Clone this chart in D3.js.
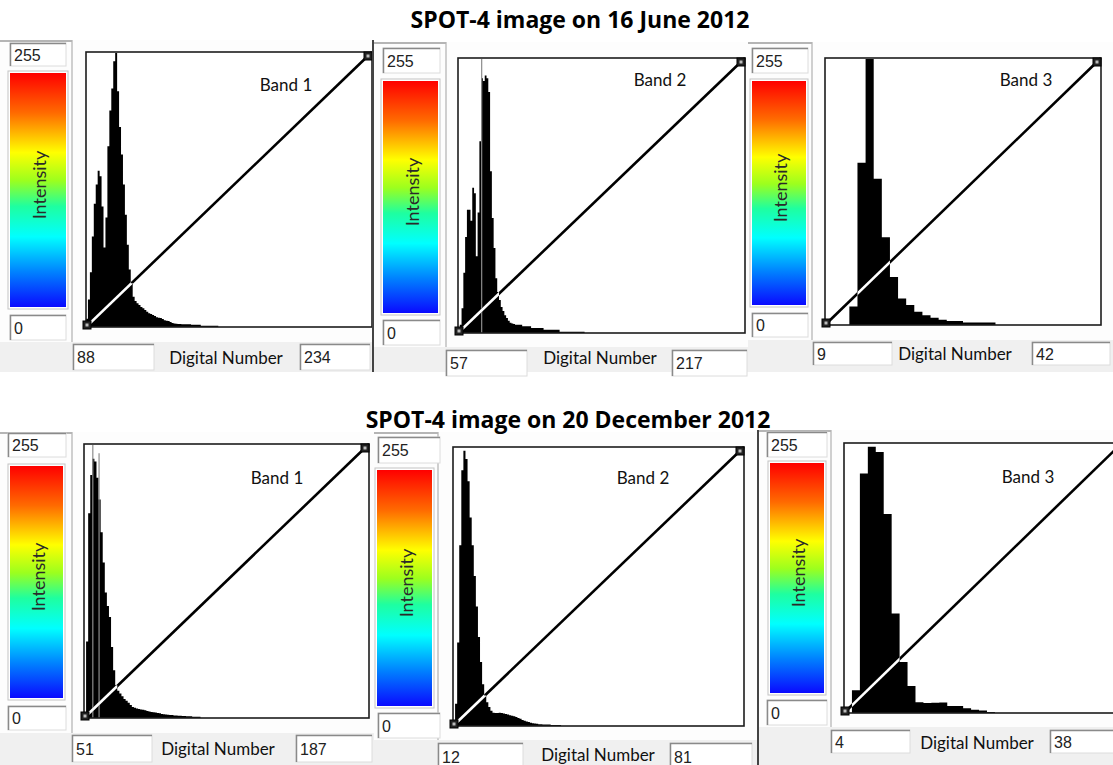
<!DOCTYPE html>
<html>
<head>
<meta charset="utf-8">
<script src="https://cdn.jsdelivr.net/npm/d3@7"></script>
<style>
  body { margin: 0; background: #fff; }
  svg { display: block; }
</style>
</head>
<body>
<div id="chart"></div>
<script>
const titles = ['SPOT-4 image on 16 June 2012', 'SPOT-4 image on 20 December 2012'];
const bandNames = ['Band 1', 'Band 2', 'Band 3', 'Band 1', 'Band 2', 'Band 3'];
const dnMin = [88, 57, 9, 51, 12, 4];
const dnMax = [234, 217, 42, 187, 81, 38];
const binSize = [1, 1, 1, 1, 0.5, 1];
const intensityTicks = ['255', '0'];
const axisLabel = 'Digital Number';
const colorLabel = 'Intensity';

// histogram heights in % of the highest bin, one value per bin from dnMin up
const histJun1 = [3, 10, 20, 33, 45, 52, 57, 55, 44, 29, 40, 66, 79, 87, 97, 100, 86, 73, 63, 52,
  41, 30, 21, 16, 11, 9.5, 8.7, 8, 7.3, 6.8, 6.2, 5.6, 5, 4.7, 4.4, 4, 3.6, 3.4, 3.3, 2.9,
  2.5, 2.3, 2.2, 1.8, 1.5, 1.3, 1.2, 1.1, 1.1, 1, 1, 1, 1, 1, 0.8, 0.8, 0.8, 0.8, 0.8,
  0.5, 0.5, 0.5, 0.5, 0.5, 0.5, 0.5, 0.5, 0.5];
const histJun2 = [0, 3, 9, 22, 35, 45, 45, 41, 53, 51, 28, 44, 70, 93, 92, 94, 93, 88, 59, 42,
  31, 20, 15, 12, 9.5, 8, 6.5, 5.5, 4.5, 3.7, 3.5, 3.3, 3, 3, 3, 3, 2.5, 2.5, 2.5, 2.5,
  2.5, 1.8, 1.8, 1.8, 1.8, 1.8, 1.8, 1.8, 1.2, 1.2, 1.2, 1.2, 1.2, 1.2, 1.2, 1.2, 1.2,
  0.5, 0.5, 0.5, 0.5, 0.5, 0.5, 0.5, 0.5, 0.5, 0.5, 0.5, 0.5, 0.5, 0.5];
const histJun3 = [0, 0, 0, 7, 61, 100, 55, 33, 18, 10, 7.5, 5, 3.7, 2.7, 2, 1.5, 1.5, 0.9, 0.9, 0.9, 0.9];
const histDec1 = [0, 28, 75, 89, 95, 94, 88, 80, 68, 57, 46, 41, 37, 26, 17.5, 12, 10, 9, 8, 7,
  6.3, 5.6, 4.8, 4, 3.8, 3.5, 3.3, 3.1, 3, 2.8, 2.6, 2.4, 2.2, 2.1, 2, 1.8, 1.7, 1.5, 1.4, 1.3,
  1.2, 1.1, 1.1, 0.9, 0.9, 0.8, 0.8, 0.7, 0.7, 0.6, 0.6, 0.6, 0.5, 0.5, 0.5, 0.5];
const histDec2 = [0, 8, 30, 65, 92, 99, 96, 88, 75, 65, 54, 43, 32, 23, 15, 11, 8.5, 6.8, 5.5, 4.8,
  4.7, 4.7, 4.8, 4.7, 4.5, 4.3, 4.1, 3.9, 3.7, 3.5, 3.2, 2.9, 2.6, 2.2, 1.9, 1.6, 1.4, 1.2, 1, 0.9,
  0.8, 0.6, 0.6, 0.5, 0.5, 0.5, 0.5, 0.4, 0.4, 0.4, 0.4, 0.4];
const histDec3 = [0, 8.5, 89, 99, 97, 74, 37, 19, 10, 4, 3.7, 3.8, 3.9, 2.6, 2.6, 1.8, 1.2, 0.9, 0.4];
const histograms = [histJun1, histJun2, histJun3, histDec1, histDec2, histDec3];

// thin grey spikes above the peaks: [DN, height %]
const spikes = [[], [[70, 100]], [], [[55, 100], [58, 97]], [], []];

// colour ramp of the intensity bar, top (255) to bottom (0)
const rampOffsets = [0, 0.17, 0.34, 0.46, 0.57, 0.7, 0.85, 1];
const rampColors = ['#ff0000', '#ff6a00', '#ffff00', '#9cff1e', '#1effa0', '#00ffff', '#0082ff', '#0a0aff'];

// screen layout of the six dialog panels (pixels)
const panels = [
  {bg: [0, 40, 373, 372], strip: 342, sep: 72, box: [86, 52, 372, 327], bar: [10, 73, 66, 307],
   top: [10, 43, 66, 66], zero: [10, 315, 66, 340], lo: [73, 344, 154, 370], hi: [300, 344, 370, 370],
   lab: [226, 357], band: [286, 84]},
  {bg: [374, 42, 748, 372], strip: 347, sep: 446, box: [458, 58, 745, 333], bar: [383, 81, 438, 313],
   top: [383, 48, 440, 73], zero: [383, 320, 440, 345], lo: [446, 350, 527, 376], hi: [672, 350, 747, 376],
   lab: [600, 357], band: [660, 79]},
  {bg: [748, 42, 1113, 372], strip: 340, sep: 812, box: [825, 58, 1101, 325], bar: [752, 81, 806, 305],
   top: [752, 48, 808, 73], zero: [752, 313, 808, 337], lo: [813, 342, 892, 365], hi: [1032, 342, 1110, 365],
   lab: [955, 353], band: [1026, 79]},
  {bg: [0, 432, 374, 765], strip: 733, sep: 72, box: [84, 444, 369, 718], bar: [10, 466, 63, 698],
   top: [8, 433, 66, 457], zero: [8, 706, 66, 730], lo: [72, 735, 152, 762], hi: [296, 735, 372, 762],
   lab: [218, 748], band: [277, 477]},
  {bg: [374, 432, 758, 765], strip: 740, sep: 438, box: [453, 447, 744, 726], bar: [377, 470, 432, 706],
   top: [378, 437, 440, 463], zero: [378, 713, 440, 738], lo: [438, 743, 523, 770], hi: [670, 743, 752, 770],
   lab: [598, 754], band: [643, 477]},
  {bg: [758, 430, 1113, 765], strip: 727, sep: 831, box: [844, 443, 1122, 713], bar: [770, 463, 824, 693],
   top: [767, 432, 827, 457], zero: [767, 700, 827, 725], lo: [831, 730, 910, 753], hi: [1050, 730, 1130, 753],
   lab: [977, 742], band: [1028, 476]}
];
const titlePos = [[580, 28], [568, 428]];

const uiFont = 'Lato, "Open Sans", sans-serif';
const titleFont = '"Open Sans", Lato, sans-serif';
const numFont = '"Liberation Sans", Arial, sans-serif';

const svg = d3.select('#chart')
  .append('svg')
  .attr('width', 1113)
  .attr('height', 765);

const defs = svg.append('defs');
const grad = defs.append('linearGradient')
  .attr('id', 'ramp')
  .attr('x1', 0).attr('y1', 0).attr('x2', 0).attr('y2', 1);
rampOffsets.forEach((o, k) => {
  grad.append('stop').attr('offset', o).attr('stop-color', rampColors[k]);
});

// sunken windows text field
function field(g, r, txt) {
  g.append('rect')
    .attr('x', r[0]).attr('y', r[1])
    .attr('width', r[2] - r[0]).attr('height', r[3] - r[1])
    .attr('fill', '#fff')
    .attr('stroke', '#dcdcdc');
  g.append('path')
    .attr('d', `M${r[0] + 0.5},${r[3]}V${r[1] + 0.5}H${r[2]}`)
    .attr('fill', 'none')
    .attr('stroke', '#8a8a8a')
    .attr('stroke-width', 1.5);
  g.append('text')
    .attr('x', r[0] + 4)
    .attr('y', (r[1] + r[3]) / 2 + 6)
    .style('font-family', numFont)
    .style('font-size', '16px')
    .attr('fill', '#222')
    .text(txt);
}

panels.forEach((p, i) => {
  const g = svg.append('g');
  const [L, T, R, B] = p.box;

  // dialog background
  g.append('rect')
    .attr('x', p.bg[0]).attr('y', p.bg[1])
    .attr('width', p.bg[2] - p.bg[0]).attr('height', p.bg[3] - p.bg[1])
    .attr('fill', '#fdfdfd');
  g.append('rect')
    .attr('x', p.bg[0]).attr('y', p.strip)
    .attr('width', p.bg[2] - p.bg[0]).attr('height', p.bg[3] - p.strip)
    .attr('fill', '#f0f0f0');
  g.append('line')
    .attr('x1', p.sep).attr('x2', p.sep)
    .attr('y1', p.bg[1]).attr('y2', p.strip)
    .attr('stroke', '#cfcfcf').attr('stroke-width', 2);
  g.append('line')
    .attr('x1', p.bg[0]).attr('x2', p.sep)
    .attr('y1', p.bg[1] + 1).attr('y2', p.bg[1] + 1)
    .attr('stroke', '#b5b5b5').attr('stroke-width', 2);

  // intensity bar
  g.append('rect')
    .attr('x', p.bar[0] - 2).attr('y', p.bar[1] - 2)
    .attr('width', p.bar[2] - p.bar[0] + 4).attr('height', p.bar[3] - p.bar[1] + 4)
    .attr('fill', '#fff').attr('stroke', '#c4c4c4');
  g.append('rect')
    .attr('x', p.bar[0]).attr('y', p.bar[1])
    .attr('width', p.bar[2] - p.bar[0]).attr('height', p.bar[3] - p.bar[1])
    .attr('fill', 'url(#ramp)');
  g.append('text')
    .attr('transform', `translate(${(p.bar[0] + p.bar[2]) / 2 + 1},${(p.bar[1] + p.bar[3]) / 2 - 5}) rotate(-90)`)
    .attr('text-anchor', 'middle')
    .attr('dominant-baseline', 'central')
    .style('font-family', uiFont)
    .style('font-size', '18px')
    .attr('fill', '#2a2a2a')
    .text(colorLabel);
  field(g, p.top, intensityTicks[0]);
  field(g, p.zero, intensityTicks[1]);

  // histogram
  const x = d3.scaleLinear().domain([dnMin[i], dnMax[i] + 1]).range([L, R]);
  const y = d3.scaleLinear().domain([0, 100]).range([B, T + 1]);
  const pts = histograms[i].map((v, k) => [dnMin[i] + k * binSize[i], v]);
  pts.push([dnMin[i] + histograms[i].length * binSize[i], 0]);
  const area = d3.area()
    .x(d => x(d[0]))
    .y0(y(0))
    .y1(d => y(d[1]))
    .curve(d3.curveStepAfter);

  defs.append('clipPath').attr('id', 'hclip' + i)
    .append('path').attr('d', area(pts));
  defs.append('clipPath').attr('id', 'view' + i)
    .append('rect')
    .attr('x', p.bg[0]).attr('y', p.bg[1])
    .attr('width', p.bg[2] - p.bg[0]).attr('height', p.bg[3] - p.bg[1]);

  const plot = g.append('g').attr('clip-path', `url(#view${i})`);
  plot.append('rect')
    .attr('x', L).attr('y', T).attr('width', R - L).attr('height', B - T)
    .attr('fill', '#fff');
  plot.append('path')
    .attr('d', area(pts))
    .attr('fill', '#000');
  plot.selectAll('.spike')
    .data(spikes[i])
    .enter().append('line')
    .attr('class', 'spike')
    .attr('x1', d => x(d[0]) + 0.5).attr('x2', d => x(d[0]) + 0.5)
    .attr('y1', y(0)).attr('y2', d => y(d[1]))
    .attr('stroke', '#8c8c8c').attr('stroke-width', 1.2);

  // linear stretch line, white where it crosses the histogram
  plot.append('line')
    .attr('x1', L).attr('y1', B).attr('x2', R).attr('y2', T)
    .attr('stroke', '#000').attr('stroke-width', 2.6);
  plot.append('line')
    .attr('x1', L).attr('y1', B).attr('x2', R).attr('y2', T)
    .attr('stroke', '#fff').attr('stroke-width', 2.6)
    .attr('clip-path', `url(#hclip${i})`);
  plot.append('rect')
    .attr('x', L).attr('y', T).attr('width', R - L).attr('height', B - T)
    .attr('fill', 'none')
    .attr('stroke', '#1c1c1c').attr('stroke-width', 1.6);

  // drag handles
  [[L + 1, B - 2], [R - 4, T + 4]].forEach(c => {
    plot.append('rect')
      .attr('x', c[0] - 4).attr('y', c[1] - 4).attr('width', 8).attr('height', 8)
      .attr('fill', '#222').attr('stroke', '#000');
    plot.append('rect')
      .attr('x', c[0] - 1.5).attr('y', c[1] - 1.5).attr('width', 3).attr('height', 3)
      .attr('fill', '#bbb');
  });

  plot.append('text')
    .attr('x', p.band[0]).attr('y', p.band[1])
    .attr('text-anchor', 'middle')
    .attr('dominant-baseline', 'central')
    .style('font-family', uiFont)
    .style('font-size', '17px')
    .attr('fill', '#111')
    .text(bandNames[i]);

  // DN range fields
  field(g, p.lo, String(dnMin[i]));
  field(g, p.hi, String(dnMax[i]));
  g.append('text')
    .attr('x', p.lab[0]).attr('y', p.lab[1])
    .attr('text-anchor', 'middle')
    .attr('dominant-baseline', 'central')
    .style('font-family', uiFont)
    .style('font-size', '17px')
    .attr('fill', '#111')
    .text(axisLabel);
});

// panel borders
svg.append('line').attr('x1', 373).attr('x2', 373).attr('y1', 40).attr('y2', 372)
  .attr('stroke', '#444').attr('stroke-width', 2);
svg.append('line').attr('x1', 758).attr('x2', 758).attr('y1', 430).attr('y2', 765)
  .attr('stroke', '#444').attr('stroke-width', 2);

titles.forEach((t, k) => {
  svg.append('text')
    .attr('x', titlePos[k][0]).attr('y', titlePos[k][1])
    .attr('text-anchor', 'middle')
    .style('font-family', titleFont)
    .style('font-weight', 'bold')
    .style('font-size', '23px')
    .attr('fill', '#000')
    .text(t);
});
</script>
</body>
</html>
